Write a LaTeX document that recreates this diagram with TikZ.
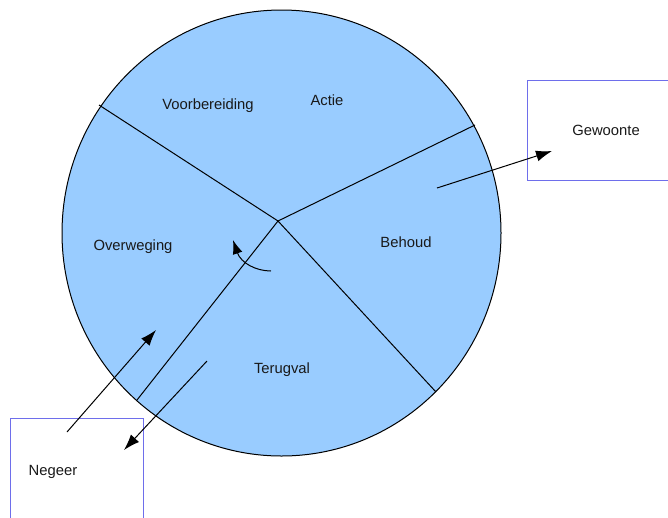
\documentclass[tikz,border=0pt]{standalone}
\usepackage{fontspec}
\setmainfont{Liberation Sans}
\usetikzlibrary{arrows.meta}
\definecolor{wheelfill}{RGB}{153,204,255}
\definecolor{boxblue}{RGB}{110,110,235}
\begin{document}
\begin{tikzpicture}[x=1pt,y=-1pt,
  lbl/.style={font=\fontsize{14.8pt}{17pt}\selectfont, text=black!90, inner sep=0pt},
  divider/.style={draw=black, line width=1pt},
  arr/.style={draw=black, line width=1pt, -{Latex[length=16pt,width=11pt]}},
  outbox/.style={draw=boxblue, line width=0.9pt}]
\useasboundingbox (0,0) rectangle (668,517);
\clip (0,0) rectangle (668,517);
% wheel
\draw[fill=wheelfill, draw=black, line width=1pt] (281.5,233) ellipse [x radius=219.5, y radius=223];
\coordinate (c) at (278,221);
\coordinate (tl) at (99,105);
\coordinate (tr) at (475,125);
\coordinate (br) at (436,392);
\coordinate (bl) at (137,400);
\draw[divider] (tl) -- (c) -- (tr);
\draw[divider] (bl) -- (c) -- (br);
% boxes
\draw[outbox] (527,80) rectangle (680,180);
\draw[outbox] (10,418) rectangle (143,530);
% labels
\node[lbl] (voor) at (208,106) {Voorbereiding};
\node[lbl] (actie) at (327,100) {Actie};
\node[lbl] (overw) at (133,247) {Overweging};
\node[lbl] (behoud) at (406,242) {Behoud};
\node[lbl] (terug) at (282,370) {Terugval};
\node[lbl] (gew) at (606,130) {Gewoonte};
\node[lbl] (neg) at (53,472) {Negeer};
% arrows
\coordinate (g1) at (437,188);
\coordinate (g2) at (552,151);
\draw[arr] (g1) -- (g2);
\coordinate (n1) at (67,432);
\coordinate (n2) at (156,330);
\draw[arr] (n1) -- (n2);
\coordinate (t1) at (207,361);
\coordinate (t2) at (124,450);
\draw[arr] (t1) -- (t2);
\coordinate (k1) at (271,271);
\coordinate (k2) at (233,240);
\draw[draw=black, line width=1pt, -{Latex[length=14pt,width=10pt]}] (k1) .. controls (256,271) and (241,263) .. (k2);
\end{tikzpicture}
\end{document}
